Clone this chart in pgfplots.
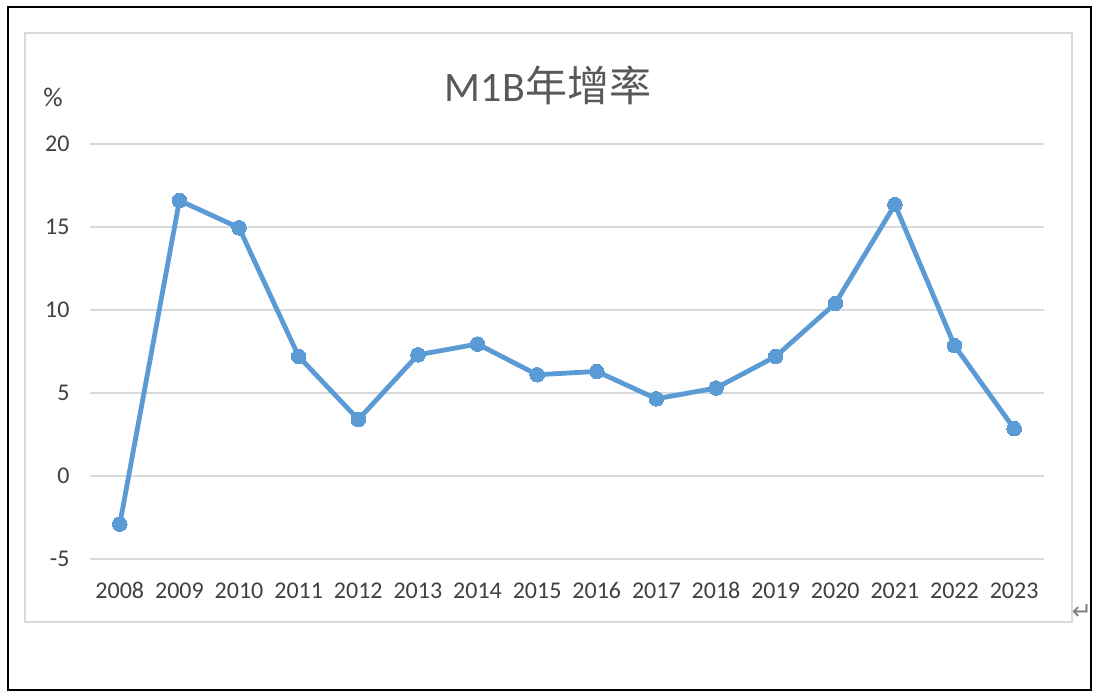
\documentclass[border=0pt]{standalone}
\usepackage{pgfplots}
\pgfplotsset{compat=1.18}
\usepackage{fontspec}
\setmainfont{Carlito}
\newfontfamily\cjk{Noto Sans CJK TC}
\newfontfamily\djv{DejaVu Sans}
\definecolor{linec}{HTML}{5B9BD5}
\definecolor{gridc}{HTML}{D9D9D9}
\definecolor{txtc}{HTML}{404040}
\definecolor{titc}{HTML}{595959}
\begin{document}
\begin{tikzpicture}[x=1pt,y=1pt]
\useasboundingbox (0,0) rectangle (1098,698);
\fill[white] (0,0) rectangle (1098,698);
\draw[black, line width=2.5pt] (8,8) rectangle (1091,691);
\draw[gridc, line width=1.5pt] (25,76) rectangle (1072,665);
\begin{axis}[
  at={(90pt,139pt)}, anchor=south west,
  scale only axis, width=954pt, height=415pt,
  xmin=2007.5, xmax=2023.5, ymin=-5, ymax=20,
  axis line style={draw=none},
  ymajorgrids, grid style={gridc, line width=1.5pt},
  xtick={2008,...,2023},
  xticklabels={2008,2009,2010,2011,2012,2013,2014,2015,2016,2017,2018,2019,2020,2021,2022,2023},
  ytick={-5,0,5,10,15,20},
  yticklabels={-5,0,5,10,15,20},
  major tick length=0pt,
  tick style={draw=none},
  tick label style={font=\fontsize{24}{28}\selectfont, text=txtc},
  xticklabel style={yshift=-20pt},
  yticklabel style={xshift=-17pt},
  clip=false,
]
\addplot[linec, line width=4.8pt, line join=round, mark=*, mark size=7.3pt, mark options={fill=linec, draw=linec, line width=0pt}]
coordinates {
(2008,-2.9) (2009,16.6) (2010,14.95) (2011,7.2) (2012,3.4) (2013,7.3) (2014,7.95) (2015,6.1) (2016,6.3) (2017,4.65) (2018,5.3) (2019,7.2) (2020,10.4) (2021,16.35) (2022,7.85) (2023,2.85)
};
\end{axis}
\node[text=txtc, font=\fontsize{27}{30}\selectfont] at (53,601) {\%};
\node[text=titc, font=\fontsize{42}{50}\selectfont] at (548,613) {M1B{\cjk 年增率}};
\node[text=gray, font=\djv\fontsize{24}{28}\selectfont] at (1082,86) {↵};
\end{tikzpicture}
\end{document}
